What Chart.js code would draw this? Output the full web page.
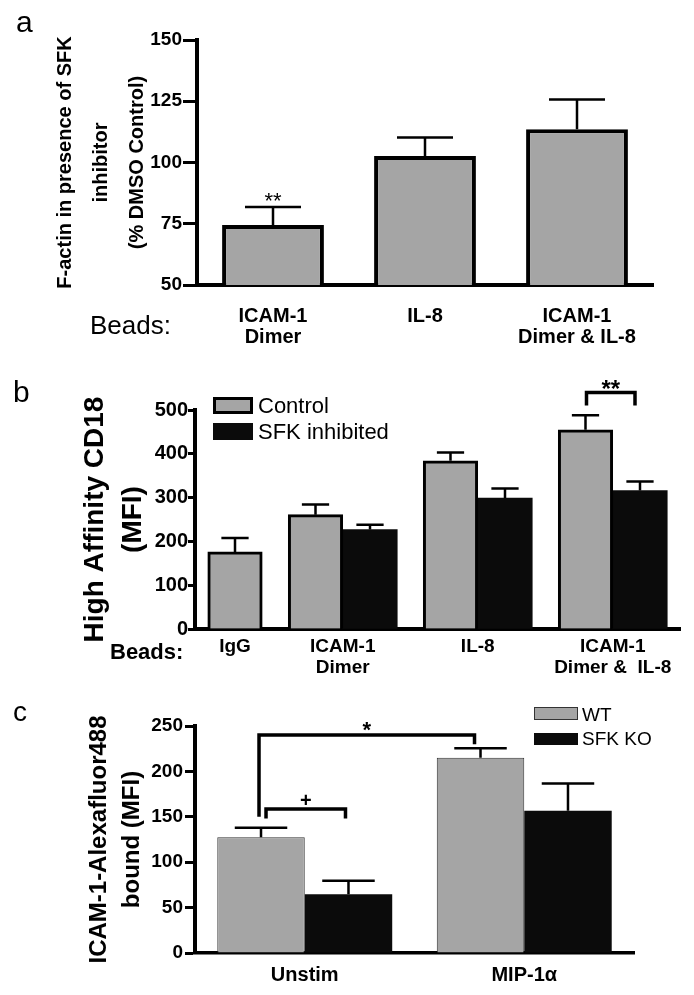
<!DOCTYPE html>
<html>
<head>
<meta charset="utf-8">
<script src="https://cdn.jsdelivr.net/npm/chart.js@4.4.0/dist/chart.umd.min.js"></script>
<style>
html,body{margin:0;padding:0;background:#fff;}
body{width:694px;height:995px;position:relative;overflow:hidden;font-family:"Liberation Sans",Arial,sans-serif;color:#000;}
canvas{position:absolute;left:0;}
.t{position:absolute;white-space:nowrap;line-height:1;}
.box{position:absolute;box-sizing:border-box;}
</style>
</head>
<body>
<canvas id="ca" width="694" height="360" style="top:0px;width:694px;height:360px"></canvas>
<canvas id="cb" width="694" height="350" style="top:350px;width:694px;height:350px"></canvas>
<canvas id="cc" width="694" height="305" style="top:690px;width:694px;height:305px"></canvas>

<div class="t" style="left:16px;top:7px;font-size:30px;">a</div>
<div class="t" style="left:90px;top:312px;font-size:26px;">Beads:</div>
<div class="t" style="left:13px;top:377px;font-size:30px;">b</div>
<div class="t" style="left:110px;top:641px;font-size:22px;font-weight:bold;">Beads:</div>
<div class="t" style="left:13px;top:698px;font-size:28px;">c</div>
<div id="legendB"></div>
<div id="legendC"></div>

<script>
// ---------- DATA ----------
const panelALabels = [['ICAM-1', 'Dimer'], ['IL-8'], ['ICAM-1', 'Dimer & IL-8']];
const panelAValues = [74.5, 102.7, 113.6];
const panelAErrors = [7.3, 7.5, 12.1];
const panelATicks = [50, 75, 100, 125, 150];

const panelBLabels = [['IgG'], ['ICAM-1', 'Dimer'], ['IL-8'], ['ICAM-1', 'Dimer &  IL-8']];
const panelBSeries = ['Control', 'SFK inhibited'];
const panelBControl = [176, 261, 384, 455];
const panelBControlErr = [32, 23, 19, 33];
const panelBSFK = [null, 227, 299, 316];
const panelBSFKErr = [null, 11, 22, 21];
const panelBTicks = [0, 100, 200, 300, 400, 500];

const panelCLabels = ['Unstim', 'MIP-1\u03b1'];
const panelCSeries = ['WT', 'SFK KO'];
const panelCWT = [127.5, 215];
const panelCWTErr = [10.5, 10.6];
const panelCKO = [64.8, 156.7];
const panelCKOErr = [14.7, 30.1];
const panelCTicks = [0, 50, 100, 150, 200, 250];

// ---------- STYLE ----------
const FONT = '"Liberation Sans", Arial, sans-serif';
const GRAY = '#a5a5a5';
const BLACK = '#0b0b0b';

function errorBars(capRatio, lineWidth) {
  return {
    id: 'errorBars',
    afterDatasetsDraw(chart) {
      const ctx = chart.ctx, ys = chart.scales.y;
      ctx.save();
      ctx.strokeStyle = '#000';
      ctx.lineWidth = lineWidth;
      chart.data.datasets.forEach((ds, di) => {
        const meta = chart.getDatasetMeta(di);
        meta.data.forEach((bar, i) => {
          const err = ds.errors ? ds.errors[i] : null;
          if (err == null) return;
          const v = meta.controller.getParsed(i).y;
          const yTop = ys.getPixelForValue(v + err);
          const half = bar.width * capRatio / 2;
          ctx.beginPath();
          ctx.moveTo(bar.x, bar.y);
          ctx.lineTo(bar.x, yTop);
          ctx.moveTo(bar.x - half, yTop);
          ctx.lineTo(bar.x + half, yTop);
          ctx.stroke();
        });
      });
      ctx.restore();
    }
  };
}

function yAxis(ticksArr, width, tickLen, pad, tickFont, title, titleFont, titleLH, titlePad) {
  return {
    min: ticksArr[0], max: ticksArr[ticksArr.length - 1],
    afterBuildTicks: s => { s.ticks = ticksArr.map(v => ({value: v})); },
    afterFit: s => { s.width = width; },
    grid: {display: true, drawOnChartArea: false, drawTicks: true, tickLength: tickLen, tickWidth: 3, tickColor: '#000'},
    border: {display: true, width: 4, color: '#000'},
    ticks: {color: '#000', padding: pad, font: {family: FONT, size: tickFont, weight: 'bold'}},
    title: {display: true, text: title, color: '#000',
      font: {family: FONT, size: titleFont, weight: 'bold', lineHeight: titleLH + 'px'},
      padding: {top: titlePad, bottom: 0}}
  };
}

const commonOpts = {
  responsive: false, animation: false, devicePixelRatio: 1,
  plugins: {legend: {display: false}, tooltip: {enabled: false}}
};

// ---------- PANEL A ----------
new Chart(document.getElementById('ca'), {
  type: 'bar',
  data: {
    labels: panelALabels,
    datasets: [{data: panelAValues, errors: panelAErrors, backgroundColor: GRAY, borderColor: '#000', borderWidth: 4,
      categoryPercentage: 0.67, barPercentage: 1}]
  },
  options: Object.assign({}, commonOpts, {
    layout: {padding: {left: 0, right: 41, top: 40, bottom: 0}},
    scales: {
      x: {
        afterFit: s => { s.height = 75; },
        grid: {display: false, drawTicks: false},
        border: {display: true, width: 4, color: '#000'},
        ticks: {color: '#000', padding: 20.5, maxRotation: 0, autoSkip: false,
          font: {family: FONT, size: 20, weight: 'bold', lineHeight: '21px'}}
      },
      y: yAxis(panelATicks, 197, 14, 1, 19, ['F-actin in presence of SFK', 'inhibitor', '(% DMSO Control)'], 20, 36, 47)
    }
  }),
  plugins: [errorBars(0.55, 2.5), {
    id: 'annA',
    afterDraw(chart) {
      const ctx = chart.ctx, ys = chart.scales.y;
      const bar = chart.getDatasetMeta(0).data[0];
      ctx.save();
      ctx.fillStyle = '#000';
      ctx.font = '22px ' + FONT;
      ctx.textAlign = 'center';
      ctx.textBaseline = 'alphabetic';
      ctx.fillText('**', bar.x, ys.getPixelForValue(86.5) + 12);
      ctx.restore();
    }
  }]
});

// ---------- PANEL B ----------
function groupLayout(counts, edge, gap) {
  let pos = edge;
  const barX = [], centers = [];
  counts.forEach(n => {
    const xs = [];
    for (let k = 0; k < n; k++) xs.push(pos + k + 0.5);
    barX.push(xs);
    centers.push(pos + n / 2);
    pos += n + gap;
  });
  return {barX, centers, total: pos - gap + edge};
}
const bCounts = panelBControl.map((v, i) => [v, panelBSFK[i]].filter(x => x != null).length);
const bPos = groupLayout(bCounts, 0.234, 0.477);
const bCtrlData = panelBControl.map((v, i) => ({x: bPos.barX[i][0], y: v}));
const bSfkIdx = panelBSFK.map((v, i) => v == null ? -1 : i).filter(i => i >= 0);
const bSfkData = bSfkIdx.map(i => ({x: bPos.barX[i][1], y: panelBSFK[i]}));
const bSfkErr = bSfkIdx.map(i => panelBSFKErr[i]);

new Chart(document.getElementById('cb'), {
  type: 'bar',
  data: {
    datasets: [
      {label: panelBSeries[0], data: bCtrlData, errors: panelBControlErr, backgroundColor: GRAY, borderColor: '#000', borderWidth: 3,
        grouped: false, categoryPercentage: 1, barPercentage: 1},
      {label: panelBSeries[1], data: bSfkData, errors: bSfkErr, backgroundColor: BLACK, borderColor: BLACK, borderWidth: 0,
        grouped: false, categoryPercentage: 1, barPercentage: 1}
    ]
  },
  options: Object.assign({}, commonOpts, {
    layout: {padding: {left: 0, right: 14, top: 60, bottom: 0}},
    scales: {
      x: {
        type: 'linear', offset: false, min: 0, max: bPos.total,
        afterBuildTicks: s => { s.ticks = bPos.centers.map(v => ({value: v})); },
        afterFit: s => { s.height = 71; },
        grid: {display: false, drawTicks: false},
        border: {display: true, width: 4, color: '#000'},
        ticks: {color: '#000', padding: 7.5, maxRotation: 0, autoSkip: false,
          callback: (v, i) => panelBLabels[i],
          font: {family: FONT, size: 19, weight: 'bold', lineHeight: '21px'}}
      },
      y: yAxis(panelBTicks, 195, 7, 0, 20, ['High Affinity CD18', '(MFI)'], 28, 38, 76)
    }
  }),
  plugins: [errorBars(0.5, 2.5), {
    id: 'annB',
    afterDraw(chart) {
      const ctx = chart.ctx, ys = chart.scales.y;
      const c = chart.getDatasetMeta(0).data[3];
      const s = chart.getDatasetMeta(1).data[2];
      const xl = c.x + 1, xr = s.x - 5;
      const yTop = ys.getPixelForValue(540), yEnd = ys.getPixelForValue(510);
      ctx.save();
      ctx.strokeStyle = '#000';
      ctx.lineWidth = 3.5;
      ctx.beginPath();
      ctx.moveTo(xl, yEnd); ctx.lineTo(xl, yTop); ctx.lineTo(xr, yTop); ctx.lineTo(xr, yEnd);
      ctx.stroke();
      ctx.fillStyle = '#000';
      ctx.font = 'bold 24px ' + FONT;
      ctx.textAlign = 'center';
      ctx.textBaseline = 'alphabetic';
      ctx.fillText('**', (xl + xr) / 2, yTop + 5);
      ctx.restore();
    }
  }]
});

// ---------- PANEL C ----------
new Chart(document.getElementById('cc'), {
  type: 'bar',
  data: {
    labels: panelCLabels,
    datasets: [
      {label: panelCSeries[0], data: panelCWT, errors: panelCWTErr, backgroundColor: GRAY, borderColor: '#333', borderWidth: 1,
        categoryPercentage: 0.797, barPercentage: 1},
      {label: panelCSeries[1], data: panelCKO, errors: panelCKOErr, backgroundColor: BLACK, borderColor: BLACK, borderWidth: 0,
        categoryPercentage: 0.797, barPercentage: 1}
    ]
  },
  options: Object.assign({}, commonOpts, {
    layout: {padding: {left: 0, right: 60, top: 36, bottom: 0}},
    scales: {
      x: {
        afterFit: s => { s.height = 42; },
        grid: {display: false, drawTicks: false},
        border: {display: true, width: 3.5, color: '#000'},
        ticks: {color: '#000', padding: 11, maxRotation: 0, autoSkip: false,
          font: {family: FONT, size: 20, weight: 'bold', lineHeight: '22px'}}
      },
      y: yAxis(panelCTicks, 195, 10, 2, 19, ['ICAM-1-Alexafluor488', 'bound (MFI)'], 24, 33, 82.5)
    }
  }),
  plugins: [errorBars(0.6, 2.5), {
    id: 'annC',
    afterDraw(chart) {
      const ctx = chart.ctx, ys = chart.scales.y;
      const wt = chart.getDatasetMeta(0).data, ko = chart.getDatasetMeta(1).data;
      const py = v => ys.getPixelForValue(v);
      ctx.save();
      ctx.strokeStyle = '#000';
      ctx.lineWidth = 3.5;
      const xl = wt[0].x - 2, xr = wt[1].x - 6;
      ctx.beginPath();
      ctx.moveTo(xl, py(150)); ctx.lineTo(xl, py(240)); ctx.lineTo(xr, py(240)); ctx.lineTo(xr, py(230));
      ctx.stroke();
      const sl = wt[0].x + 5, sr = ko[0].x - 3;
      ctx.beginPath();
      ctx.moveTo(sl, py(148)); ctx.lineTo(sl, py(158.5)); ctx.lineTo(sr, py(158.5)); ctx.lineTo(sr, py(148));
      ctx.stroke();
      ctx.fillStyle = '#000';
      ctx.textAlign = 'center';
      ctx.textBaseline = 'alphabetic';
      ctx.font = 'bold 22px ' + FONT;
      ctx.fillText('*', (xl + xr) / 2, py(252) + 13);
      ctx.font = 'bold 20px ' + FONT;
      ctx.fillText('+', (sl + sr) / 2, py(168.5) + 7);
      ctx.restore();
    }
  }]
});

// ---------- LEGENDS (HTML) ----------
function legend(el, items) {
  el.innerHTML = items.map(it =>
    `<div class="box" style="left:${it.bx}px;top:${it.by}px;width:${it.bw}px;height:${it.bh}px;background:${it.fill};border:${it.border};"></div>` +
    `<div class="t" style="left:${it.tx}px;top:${it.ty}px;font-size:${it.fs}px;">${it.text}</div>`).join('');
}
legend(document.getElementById('legendB'), [
  {text: panelBSeries[0], fill: GRAY, border: '3px solid #000', bx: 213, by: 397, bw: 40, bh: 17, tx: 258, ty: 395, fs: 22},
  {text: panelBSeries[1], fill: BLACK, border: '0', bx: 213, by: 423, bw: 40, bh: 17, tx: 258, ty: 421, fs: 22}
]);
legend(document.getElementById('legendC'), [
  {text: panelCSeries[0], fill: GRAY, border: '1.5px solid #333', bx: 534, by: 707, bw: 44, bh: 13, tx: 582, ty: 704.5, fs: 19},
  {text: panelCSeries[1], fill: BLACK, border: '0', bx: 534, by: 733, bw: 44, bh: 12, tx: 582, ty: 728.5, fs: 19}
]);
</script>
</body>
</html>
